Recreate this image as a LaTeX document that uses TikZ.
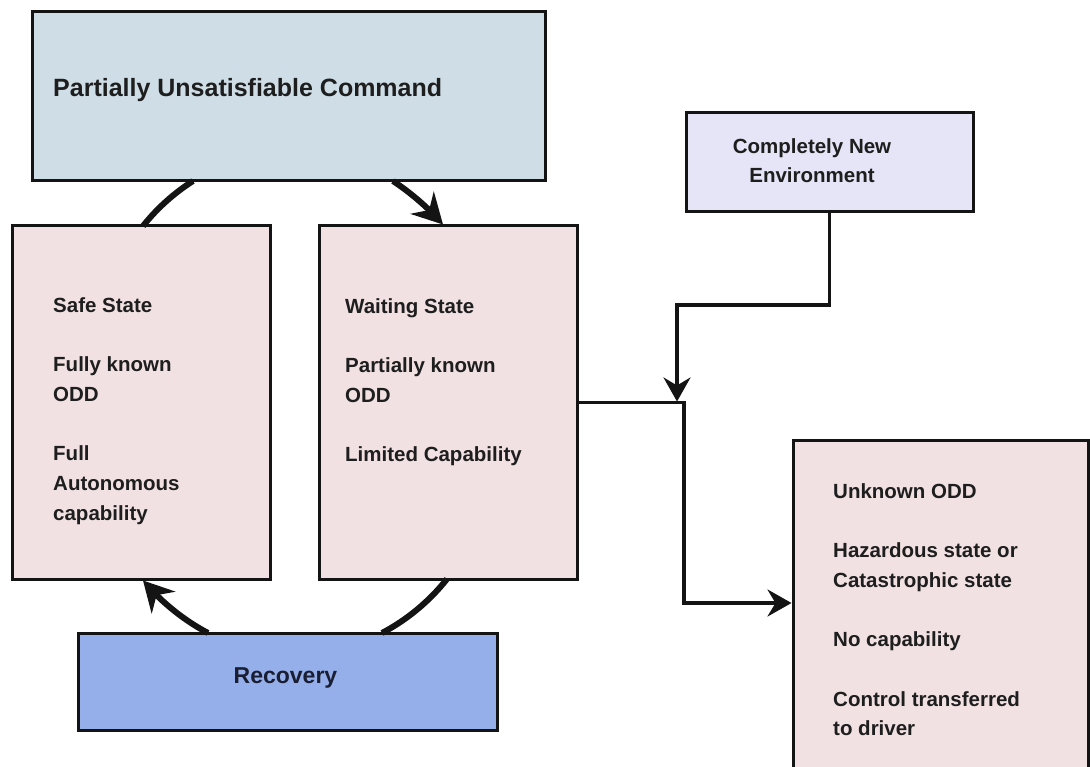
\documentclass[tikz,border=0pt]{standalone}
\usepackage{fontspec}
\setmainfont{Liberation Sans}
\usetikzlibrary{arrows.meta,bending,calc}
\definecolor{topfill}{HTML}{CFDDE7}
\definecolor{pinkfill}{HTML}{F2E1E2}
\definecolor{envfill}{HTML}{E5E5F7}
\definecolor{recfill}{HTML}{95AFEA}
\definecolor{textcol}{HTML}{1E1E1E}
\definecolor{rectext}{HTML}{1A1E33}
\newcommand{\topstrut}{\rule{0pt}{20pt}}
\begin{document}
\begin{tikzpicture}[x=1pt,y=-1pt,
  box/.style={draw=black!92, line width=3pt, inner sep=0pt, outer sep=0pt, anchor=north west},
  txt/.style={font=\bfseries\fontsize{20.5}{29.7}\selectfont, text=textcol, align=left, anchor=north west, inner sep=0pt},
  loopline/.style={line width=6pt, black!92},
  looparr/.style={line width=6pt, black!92, -{Stealth[length=30pt,width=32pt,inset=10pt]}},
  arr/.style={line width=3.5pt, black!92, -{Stealth[length=24pt,width=27pt,inset=8pt]}},
]
\useasboundingbox (0,0) rectangle (1090,767);
\fill[white] (0,0) rectangle (1090,767);

% boxes
\node[box, fill=topfill, minimum width=513pt, minimum height=169pt] (top) at (32,12) {};
\node[box, fill=pinkfill, minimum width=258pt, minimum height=353pt] (safe) at (12,226) {};
\node[box, fill=pinkfill, minimum width=258pt, minimum height=353pt] (wait) at (319,226) {};
\node[box, fill=envfill, minimum width=287pt, minimum height=99pt] (env) at (686,113) {};
\node[box, fill=recfill, minimum width=419pt, minimum height=97pt] (rec) at (78,633) {};
\node[box, fill=pinkfill, minimum width=295pt, minimum height=345pt] (unk) at (793,440) {};

% texts (first baseline = anchor y + 20)
\node[txt, anchor=base west, font=\bfseries\fontsize{25}{30}\selectfont] (topT) at (53,97) {Partially Unsatisfiable Command};
\node[txt] (safeT) at (53,292) {\topstrut Safe State\\[29.7pt]Fully known\\ODD\\[29.7pt]Full\\Autonomous\\capability};
\node[txt] (waitT) at (345,293) {\topstrut Waiting State\\[29.7pt]Partially known\\ODD\\[29.7pt]Limited Capability};
\node[txt, align=center, anchor=north] (envT) at (812,133) {\topstrut Completely New\\Environment};
\node[txt] (unkT) at (833,478) {\topstrut Unknown ODD\\[29.7pt]Hazardous state or\\Catastrophic state\\[29.7pt]No capability\\[29.7pt]Control transferred\\to driver};
\node[txt, text=rectext, font=\bfseries\fontsize{23}{28}\selectfont, anchor=base] (recT) at (285.5,683) {Recovery};

% loop connectors
\draw[looparr] ($(top.south west)+(361,0)$) .. controls ($(top.south west)+(379,12)$) and ($(wait.north west)+(109,-18.5)$) .. ($(wait.north west)+(124,-1.5)$);
\draw[loopline] ($(wait.south west)+(128,0)$) .. controls ($(wait.south west)+(109.5,23.3)$) and ($(rec.north west)+(328.2,-12.8)$) .. ($(rec.north west)+(304,0)$);
\draw[looparr] ($(rec.north west)+(130,0)$) .. controls ($(rec.north west)+(105.8,-12.8)$) and ($(safe.south west)+(149.5,23.3)$) .. ($(safe.south west)+(131,1.5)$);
\draw[loopline] ($(safe.north west)+(131,0)$) .. controls ($(safe.north west)+(145.7,-18.5)$) and ($(top.south west)+(142.7,11.7)$) .. ($(top.south west)+(161,0)$);

% straight connectors
\coordinate (bendA) at (677,305);
\coordinate (joinA) at (677,401.5);
\draw[arr] (env.south) |- (bendA) -- (joinA);
\coordinate (turnB) at (684,603);
\draw[arr] (wait.east) -| (turnB) -- ($(turnB -| unk.west)+(-1.5,0)$);
\end{tikzpicture}
\end{document}
